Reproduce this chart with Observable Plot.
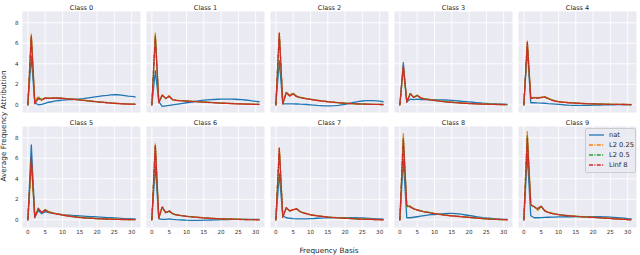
<!DOCTYPE html>
<html><head><meta charset="utf-8">
<script src="https://cdn.jsdelivr.net/npm/d3@7"></script>
<script src="https://cdn.jsdelivr.net/npm/@observablehq/plot@0.6"></script>
<style>
body{margin:0;background:#fff;font-family:'DejaVu Sans',sans-serif;}
#wrap{position:relative;width:640px;height:255px;}
#legend{position:absolute;left:585px;top:128px;width:51px;height:45px;background:rgba(234,234,242,0.8);border:1px solid #cccccc;border-radius:2px;box-sizing:border-box;}
.li{position:absolute;left:2px;height:10px;font-size:6.7px;color:#262626;line-height:10px;white-space:nowrap;}
.li svg{position:absolute;left:0;top:0;}
.li span{position:absolute;left:21px;top:0;}
</style></head><body><div id="wrap"></div>
<script>
const classNames = ["Class 0","Class 1","Class 2","Class 3","Class 4","Class 5","Class 6","Class 7","Class 8","Class 9"];
const seriesNames = ["nat","L2 0.25","L2 0.5","Linf 8"];
const freqBasis = [0,1,2,3,4,5,6,7,8,9,10,11,12,13,14,15,16,17,18,19,20,21,22,23,24,25,26,27,28,29,30,31];
const xTicks = [0,5,10,15,20,25,30];
const yTicks = [0,2,4,6,8];

const natValues = [
  [0,4.7,0.2,0.0,0.05,0.15,0.25,0.3,0.38,0.42,0.45,0.48,0.5,0.52,0.55,0.57,0.6,0.65,0.7,0.75,0.8,0.85,0.9,0.93,0.97,1.0,0.98,0.95,0.9,0.85,0.82,0.78],
  [0,3.3,0.3,-0.15,-0.1,-0.05,0.0,0.05,0.1,0.15,0.2,0.25,0.3,0.35,0.4,0.45,0.48,0.5,0.52,0.54,0.55,0.56,0.56,0.55,0.54,0.52,0.5,0.47,0.43,0.38,0.34,0.3],
  [0,4.3,0.1,0.1,0.1,0.1,0.08,0.06,0.05,0.03,0.0,-0.03,-0.06,-0.08,-0.1,-0.1,-0.1,-0.08,-0.05,0.0,0.05,0.12,0.2,0.27,0.33,0.37,0.4,0.4,0.4,0.38,0.35,0.3],
  [0,4.1,0.3,0.55,0.5,0.55,0.52,0.52,0.52,0.51,0.5,0.49,0.48,0.47,0.45,0.43,0.4,0.37,0.34,0.31,0.28,0.25,0.22,0.19,0.16,0.14,0.12,0.1,0.08,0.07,0.06,0.05],
  [0,5.5,0.2,0.2,0.18,0.17,0.15,0.12,0.1,0.07,0.04,0.01,-0.02,-0.04,-0.05,-0.06,-0.06,-0.06,-0.05,-0.05,-0.04,-0.03,-0.02,-0.01,0.0,0.0,0.0,0.01,0.01,0.01,0.01,0.0],
  [0,7.3,0.3,0.9,0.6,0.8,0.7,0.65,0.6,0.55,0.5,0.47,0.45,0.42,0.4,0.38,0.36,0.34,0.32,0.3,0.28,0.26,0.24,0.22,0.2,0.18,0.16,0.14,0.12,0.11,0.1,0.1],
  [0,5.3,0.1,0.05,0.05,0.1,0.05,0.02,0.0,-0.02,-0.04,-0.05,-0.05,-0.05,-0.05,-0.04,-0.03,-0.02,-0.01,0.0,0.01,0.02,0.03,0.04,0.05,0.05,0.05,0.05,0.05,0.05,0.05,0.05],
  [0,4.5,0.4,0.2,0.15,0.12,0.1,0.1,0.1,0.1,0.12,0.13,0.15,0.17,0.18,0.2,0.2,0.21,0.21,0.21,0.21,0.2,0.2,0.2,0.19,0.18,0.16,0.14,0.12,0.1,0.08,0.06],
  [0,5.9,0.2,0.2,0.25,0.3,0.35,0.4,0.45,0.5,0.52,0.55,0.58,0.6,0.62,0.62,0.6,0.57,0.52,0.47,0.42,0.37,0.32,0.27,0.22,0.18,0.15,0.12,0.09,0.07,0.05,0.04],
  [0,6.4,0.4,0.2,0.2,0.22,0.24,0.25,0.26,0.27,0.28,0.29,0.3,0.3,0.3,0.31,0.31,0.31,0.31,0.31,0.31,0.3,0.3,0.29,0.28,0.26,0.24,0.21,0.18,0.15,0.12,0.1]
];
const l2q25Values = [
  [0,6.9,0.3,0.8,0.5,0.7,0.65,0.68,0.7,0.68,0.65,0.62,0.6,0.57,0.53,0.5,0.46,0.42,0.38,0.35,0.31,0.28,0.25,0.22,0.19,0.16,0.14,0.12,0.1,0.08,0.07,0.06],
  [0,7.0,0.3,1.0,0.6,0.9,0.5,0.45,0.42,0.4,0.38,0.36,0.34,0.32,0.3,0.28,0.26,0.24,0.22,0.2,0.18,0.17,0.15,0.14,0.12,0.11,0.1,0.09,0.08,0.07,0.06,0.05],
  [0,7.0,0.1,1.25,0.95,1.15,0.85,0.75,0.68,0.6,0.55,0.5,0.45,0.4,0.36,0.32,0.28,0.25,0.22,0.19,0.16,0.14,0.12,0.1,0.09,0.08,0.07,0.06,0.05,0.04,0.04,0.03],
  [0,3.7,0.3,1.15,0.75,0.95,0.7,0.6,0.55,0.5,0.45,0.4,0.36,0.32,0.29,0.26,0.23,0.2,0.18,0.16,0.14,0.12,0.1,0.09,0.08,0.07,0.06,0.05,0.04,0.03,0.03,0.02],
  [0,6.2,0.7,0.72,0.7,0.75,0.8,0.65,0.5,0.4,0.32,0.28,0.25,0.22,0.2,0.18,0.16,0.14,0.12,0.11,0.1,0.09,0.08,0.07,0.07,0.06,0.05,0.05,0.04,0.04,0.03,0.03],
  [0,5.5,0.3,1.15,0.7,1.0,0.8,0.7,0.62,0.56,0.5,0.44,0.38,0.33,0.29,0.25,0.22,0.19,0.17,0.15,0.13,0.11,0.1,0.09,0.08,0.07,0.06,0.05,0.04,0.03,0.02,0.02],
  [0,7.4,0.2,1.25,0.7,0.85,0.6,0.5,0.45,0.4,0.35,0.32,0.29,0.26,0.23,0.2,0.18,0.16,0.14,0.12,0.1,0.09,0.08,0.07,0.06,0.05,0.04,0.03,0.02,0.02,0.01,0.0],
  [0,7.0,0.3,1.1,0.9,1.0,1.1,0.8,0.7,0.6,0.5,0.45,0.4,0.36,0.32,0.28,0.25,0.23,0.21,0.19,0.17,0.15,0.13,0.11,0.09,0.07,0.06,0.05,0.04,0.03,0.02,0.01],
  [0,8.4,1.35,1.35,1.1,1.0,0.9,0.8,0.75,0.7,0.62,0.57,0.52,0.48,0.44,0.4,0.37,0.34,0.31,0.28,0.25,0.22,0.19,0.16,0.13,0.1,0.08,0.06,0.04,0.03,0.02,0.01],
  [0,8.6,1.45,1.3,0.9,1.3,0.9,0.75,0.65,0.58,0.52,0.48,0.44,0.41,0.38,0.35,0.33,0.31,0.29,0.27,0.25,0.23,0.21,0.19,0.17,0.15,0.12,0.09,0.07,0.05,0.03,0.02]
];
const l2q5Values = [
  [0,6.6,0.2,0.7,0.5,0.68,0.64,0.66,0.67,0.66,0.63,0.6,0.58,0.55,0.51,0.48,0.44,0.4,0.37,0.33,0.3,0.27,0.24,0.21,0.18,0.15,0.13,0.11,0.09,0.08,0.07,0.06],
  [0,6.8,0.25,0.95,0.6,0.85,0.5,0.44,0.41,0.39,0.37,0.35,0.33,0.31,0.29,0.27,0.25,0.23,0.21,0.19,0.17,0.16,0.14,0.13,0.11,0.1,0.09,0.08,0.07,0.06,0.05,0.04],
  [0,6.9,0.1,1.2,0.9,1.1,0.82,0.72,0.65,0.58,0.53,0.48,0.43,0.39,0.35,0.31,0.27,0.24,0.21,0.18,0.15,0.13,0.11,0.1,0.09,0.08,0.07,0.06,0.05,0.04,0.03,0.03],
  [0,3.6,0.3,1.1,0.72,0.92,0.68,0.58,0.53,0.48,0.43,0.39,0.35,0.31,0.28,0.25,0.22,0.2,0.17,0.15,0.13,0.12,0.1,0.09,0.08,0.07,0.06,0.05,0.04,0.03,0.02,0.02],
  [0,6.0,0.65,0.7,0.68,0.72,0.78,0.62,0.48,0.38,0.31,0.27,0.24,0.21,0.19,0.17,0.15,0.13,0.12,0.1,0.09,0.08,0.08,0.07,0.06,0.05,0.05,0.04,0.04,0.03,0.03,0.02],
  [0,5.8,0.25,1.1,0.72,0.98,0.78,0.68,0.6,0.54,0.48,0.42,0.37,0.32,0.28,0.24,0.21,0.18,0.16,0.14,0.12,0.1,0.09,0.08,0.07,0.06,0.05,0.04,0.03,0.03,0.02,0.02],
  [0,7.2,0.2,1.2,0.7,0.82,0.58,0.49,0.44,0.39,0.34,0.31,0.28,0.25,0.22,0.19,0.17,0.15,0.13,0.11,0.1,0.09,0.08,0.07,0.06,0.05,0.04,0.03,0.02,0.02,0.01,0.0],
  [0,6.8,0.3,1.15,0.88,0.98,1.05,0.78,0.68,0.58,0.49,0.44,0.39,0.35,0.31,0.27,0.24,0.22,0.2,0.18,0.16,0.14,0.12,0.1,0.08,0.07,0.06,0.05,0.04,0.03,0.02,0.01],
  [0,8.0,1.3,1.3,1.08,0.98,0.88,0.79,0.74,0.68,0.61,0.56,0.51,0.47,0.43,0.39,0.36,0.33,0.3,0.27,0.24,0.21,0.18,0.15,0.12,0.1,0.08,0.06,0.04,0.03,0.02,0.01],
  [0,8.2,1.4,1.28,1.0,1.3,0.88,0.74,0.64,0.57,0.51,0.47,0.43,0.4,0.37,0.34,0.32,0.3,0.28,0.26,0.24,0.22,0.2,0.18,0.16,0.14,0.11,0.09,0.07,0.05,0.03,0.02]
];
const linf8Values = [
  [0,6.7,0.1,0.6,0.45,0.65,0.62,0.64,0.65,0.64,0.62,0.59,0.56,0.53,0.5,0.47,0.43,0.39,0.36,0.32,0.29,0.26,0.23,0.2,0.17,0.14,0.12,0.1,0.08,0.07,0.06,0.05],
  [0,6.6,0.2,0.9,0.65,0.8,0.5,0.43,0.4,0.38,0.36,0.34,0.32,0.3,0.28,0.26,0.24,0.22,0.2,0.18,0.16,0.15,0.13,0.12,0.1,0.09,0.08,0.07,0.06,0.05,0.04,0.03],
  [0,7.0,0.1,1.15,0.85,1.05,0.8,0.7,0.63,0.57,0.52,0.47,0.42,0.38,0.34,0.3,0.26,0.23,0.2,0.17,0.15,0.13,0.11,0.1,0.08,0.07,0.06,0.05,0.04,0.04,0.03,0.02],
  [0,3.8,0.25,1.05,0.7,0.9,0.66,0.56,0.51,0.46,0.42,0.38,0.34,0.3,0.27,0.24,0.21,0.19,0.16,0.14,0.12,0.11,0.09,0.08,0.07,0.06,0.05,0.04,0.03,0.03,0.02,0.01],
  [0,6.1,0.6,0.68,0.65,0.7,0.75,0.6,0.46,0.37,0.3,0.26,0.23,0.2,0.18,0.16,0.14,0.12,0.11,0.1,0.09,0.08,0.07,0.06,0.05,0.05,0.04,0.04,0.03,0.03,0.02,0.02],
  [0,6.1,0.2,1.05,0.7,0.95,0.76,0.66,0.58,0.52,0.46,0.4,0.35,0.3,0.26,0.22,0.19,0.17,0.15,0.13,0.11,0.09,0.08,0.07,0.06,0.05,0.04,0.03,0.03,0.02,0.01,0.01],
  [0,7.3,0.15,1.3,0.68,0.88,0.6,0.48,0.43,0.38,0.33,0.3,0.27,0.24,0.21,0.18,0.16,0.14,0.12,0.1,0.09,0.08,0.07,0.06,0.05,0.04,0.03,0.02,0.02,0.01,0.01,0.0],
  [0,7.0,0.25,1.2,0.85,1.0,1.08,0.8,0.66,0.57,0.48,0.43,0.38,0.34,0.3,0.26,0.23,0.21,0.19,0.17,0.15,0.13,0.11,0.09,0.07,0.06,0.05,0.04,0.03,0.02,0.01,0.0],
  [0,7.8,1.4,1.25,1.05,0.95,0.86,0.78,0.72,0.66,0.6,0.55,0.5,0.46,0.42,0.38,0.35,0.32,0.29,0.26,0.23,0.2,0.17,0.14,0.11,0.09,0.07,0.05,0.04,0.03,0.02,0.0],
  [0,8.0,1.5,1.25,1.1,1.35,0.9,0.72,0.62,0.55,0.5,0.46,0.42,0.39,0.36,0.33,0.31,0.29,0.27,0.25,0.23,0.21,0.19,0.17,0.15,0.13,0.1,0.08,0.06,0.04,0.02,0.0]
];

const seriesValues = [natValues, l2q25Values, l2q5Values, linf8Values];
const seriesColors = ["#1f77b4", "#ff7f0e", "#2ca02c", "#d62728"];
const seriesDash = [null, "4,1.4,1,1.4", "4,1.4,1,1.4", "4,1.4,1,1.4"];

const rows = [];
seriesNames.forEach((s, si) => {
  classNames.forEach((c, ci) => {
    freqBasis.forEach((f, fi) => {
      rows.push({series: s, cls: c, col: ci % 5, row: Math.floor(ci / 5), f, v: seriesValues[si][ci][fi]});
    });
  });
});
const titles = classNames.map((c, ci) => ({cls: c, col: ci % 5, row: Math.floor(ci / 5)}));

const lineMarks = seriesNames.map((s, si) => Plot.line(rows.filter(d => d.series === s), {
  x: "f", y: "v", z: "cls", fx: "col", fy: "row",
  stroke: seriesColors[si], strokeWidth: 1.3,
  strokeDasharray: seriesDash[si] || undefined
}));

const chart = Plot.plot({
  width: 640, height: 255,
  marginLeft: 22, marginRight: 3, marginTop: 10, marginBottom: 27,
  style: {fontFamily: "'DejaVu Sans', sans-serif", background: "transparent", color: "#262626", overflow: "visible"},
  fx: {domain: [0,1,2,3,4], axis: null, paddingInner: 0.045, paddingOuter: 0},
  fy: {domain: [0,1], axis: null, paddingInner: 0.12, paddingOuter: 0},
  x: {domain: [-1.55, 32.55]},
  y: {domain: [-0.75, 9.1]},
  marks: [
    Plot.frame({fill: "#eaeaf2", stroke: "none"}),
    Plot.gridX({ticks: xTicks, stroke: "#ffffff", strokeOpacity: 1, strokeWidth: 0.9}),
    Plot.gridY({ticks: yTicks, stroke: "#ffffff", strokeOpacity: 1, strokeWidth: 0.9}),
    Plot.axisX({ticks: xTicks, tickSize: 0, tickPadding: 3, fontSize: 5.6, label: null, color: "#333"}),
    Plot.axisY({ticks: yTicks, tickSize: 0, tickPadding: 4, fontSize: 5.6, label: null, color: "#333"}),
    ...lineMarks,
    Plot.text(titles, {fx: "col", fy: "row", text: "cls", frameAnchor: "top", lineAnchor: "bottom", dy: -2, fontSize: 6.5, fill: "#262626"})
  ]
});

const wrap = document.getElementById("wrap");
wrap.appendChild(chart);

const svg = d3.select(chart);
svg.append("text").attr("transform", "translate(6,126) rotate(-90)")
  .attr("text-anchor", "middle").attr("font-size", 7.3).attr("fill", "#262626")
  .text("Average Frequency Attribution");
svg.append("text").attr("x", 329).attr("y", 252.5)
  .attr("text-anchor", "middle").attr("font-size", 7.3).attr("fill", "#262626")
  .text("Frequency Basis");

const legend = document.createElement("div");
legend.id = "legend";
seriesNames.forEach((s, si) => {
  const item = document.createElement("div");
  item.className = "li";
  item.style.top = (1 + si * 10) + "px";
  item.innerHTML = `<svg width="18" height="10"><line x1="1" x2="16" y1="5" y2="5" stroke="${seriesColors[si]}" stroke-width="1.3" ${seriesDash[si] ? `stroke-dasharray="${seriesDash[si]}"` : ""}/></svg><span>${s}</span>`;
  legend.appendChild(item);
});
wrap.appendChild(legend);
</script></body></html>
